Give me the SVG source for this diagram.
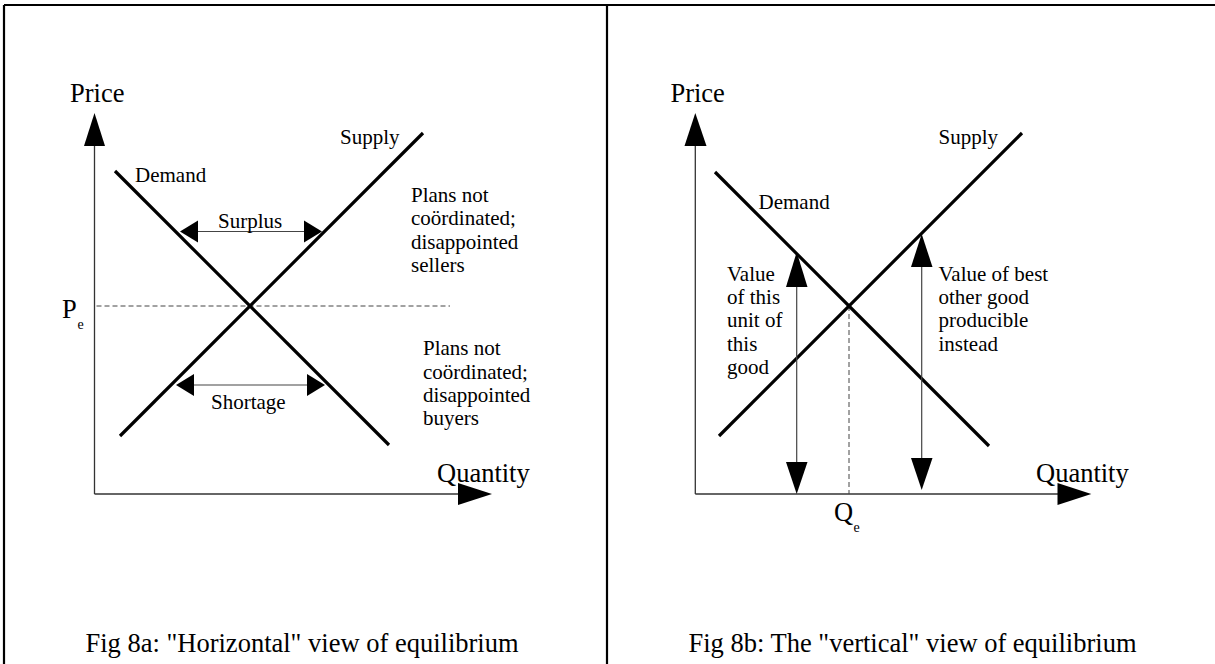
<svg xmlns="http://www.w3.org/2000/svg" width="1215" height="664" viewBox="0 0 1215 664">
<style>
text{font-family:"Liberation Serif","Times New Roman",serif;fill:#000}
.lbl{font-size:21px}
.ax{font-size:26.5px}
.sub{font-size:14px}
.cap{font-size:26.5px}
.curve{stroke:#000;stroke-width:3.2;fill:none}
.axis{stroke:#333;stroke-width:1.3;fill:none}
.shaft{stroke:#444;stroke-width:1.2;fill:none}
.dash{stroke:#444;stroke-width:1;stroke-dasharray:5 3;fill:none}
.frame{stroke:#000;stroke-width:2.2;fill:none}
.head{fill:#000}
</style>
<rect x="0" y="0" width="1215" height="664" fill="#fff"/>
<g id="frame">
<line class="frame" x1="4" y1="5" x2="1215" y2="5"/>
<line class="frame" x1="4" y1="5" x2="4" y2="664"/>
<line class="frame" x1="607" y1="5" x2="607" y2="664"/>
</g>
<g id="fig8a">
<g id="a-axes">
<line class="axis" x1="94.5" y1="140" x2="94.5" y2="494"/>
<polygon class="head" points="94.5,113 84,146 105,146"/>
<line class="axis" x1="94.5" y1="494" x2="462" y2="494"/>
<polygon class="head" points="492,494 458,483 458,505"/>
<text class="ax" x="70" y="102">Price</text>
<text class="ax" x="437" y="482">Quantity</text>
</g>
<line class="dash" x1="96.5" y1="306" x2="450" y2="306"/>
<g id="a-pe"><text class="ax" x="62" y="318">P</text><text class="sub" x="77.5" y="329">e</text></g>
<g id="a-demand"><line class="curve" x1="115" y1="171" x2="389" y2="445"/><text class="lbl" x="135" y="182">Demand</text></g>
<g id="a-supply"><line class="curve" x1="120" y1="436" x2="423" y2="133"/><text class="lbl" x="340" y="144">Supply</text></g>
<g id="a-surplus">
<line class="shaft" x1="195" y1="231.5" x2="307" y2="231.5"/>
<polygon class="head" points="180,231.5 198,220.5 198,242.5"/>
<polygon class="head" points="322,231.5 304,220.5 304,242.5"/>
<text class="lbl" x="218" y="228">Surplus</text>
</g>
<g id="a-shortage">
<line class="shaft" x1="192" y1="385" x2="309" y2="385"/>
<polygon class="head" points="176,385 194,374 194,396"/>
<polygon class="head" points="325,385 307,374 307,396"/>
<text class="lbl" x="211" y="409">Shortage</text>
</g>
<g id="a-sellers">
<text class="lbl" x="411" y="202">Plans not</text>
<text class="lbl" x="411" y="225">coördinated;</text>
<text class="lbl" x="411" y="249">disappointed</text>
<text class="lbl" x="411" y="272">sellers</text>
</g>
<g id="a-buyers">
<text class="lbl" x="423" y="355">Plans not</text>
<text class="lbl" x="423" y="379">coördinated;</text>
<text class="lbl" x="423" y="402">disappointed</text>
<text class="lbl" x="423" y="425">buyers</text>
</g>
<text id="a-caption" class="cap" x="85.5" y="652">Fig 8a: "Horizontal" view of equilibrium</text>
</g>
<g id="fig8b">
<g id="b-axes">
<line class="axis" x1="695.3" y1="140" x2="695.3" y2="494"/>
<polygon class="head" points="695.3,113 684.5,146 706.5,146"/>
<line class="axis" x1="695.3" y1="494" x2="1062" y2="494"/>
<polygon class="head" points="1091.3,494 1057.5,483 1057.5,505"/>
<text class="ax" x="670.4" y="102">Price</text>
<text class="ax" x="1036" y="482">Quantity</text>
</g>
<line class="dash" x1="849" y1="306" x2="849" y2="494"/>
<g id="b-qe"><text class="ax" x="834" y="521">Q</text><text class="sub" x="853.5" y="532">e</text></g>
<g id="b-demand"><line class="curve" x1="715" y1="172" x2="989" y2="446"/><text class="lbl" x="758.5" y="209">Demand</text></g>
<g id="b-supply"><line class="curve" x1="719" y1="436" x2="1022" y2="133"/><text class="lbl" x="938.5" y="144">Supply</text></g>
<g id="b-value">
<line class="shaft" x1="796.7" y1="280" x2="796.7" y2="468"/>
<polygon class="head" points="796.7,252 786,287 807.5,287"/>
<polygon class="head" points="796.7,494 786,462 807.5,462"/>
<text class="lbl" x="727" y="281">Value</text>
<text class="lbl" x="727" y="304">of this</text>
<text class="lbl" x="727" y="327">unit of</text>
<text class="lbl" x="727" y="351">this</text>
<text class="lbl" x="727" y="374">good</text>
</g>
<g id="b-cost">
<line class="shaft" x1="921.7" y1="262" x2="921.7" y2="464"/>
<polygon class="head" points="921.7,234 911,267 932.5,267"/>
<polygon class="head" points="921.7,490 911,458 932.5,458"/>
<text class="lbl" x="938.5" y="281">Value of best</text>
<text class="lbl" x="938.5" y="304">other good</text>
<text class="lbl" x="938.5" y="327">producible</text>
<text class="lbl" x="938.5" y="351">instead</text>
</g>
<text id="b-caption" class="cap" x="688.5" y="652">Fig 8b: The "vertical" view of equilibrium</text>
</g>
</svg>
